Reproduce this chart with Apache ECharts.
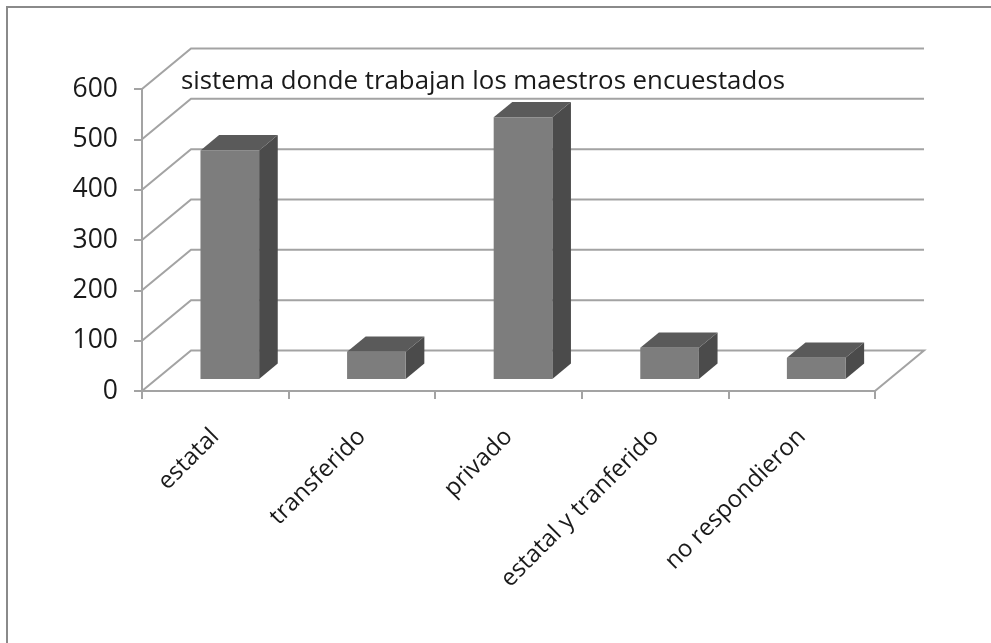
<!DOCTYPE html>
<html>
<head>
<meta charset="utf-8">
<script src="https://cdn.jsdelivr.net/npm/echarts@6/dist/echarts.min.js"></script>
<style>
  html, body { margin: 0; padding: 0; background: #fff; }
  #chart { width: 991px; height: 643px; }
</style>
</head>
<body>
<div id="chart"></div>
<script>
// Survey data: where the surveyed teachers work
const categories = ['estatal', 'transferido', 'privado', 'estatal y tranferido', 'no respondieron'];
const teachers = [454, 54, 520, 62, 42];
const yTicks = [0, 100, 200, 300, 400, 500, 600];
const chartTitle = 'sistema donde trabajan los maestros encuestados';

// Oblique 3D look: how far the back wall sits behind the front plane
const DEPTH_X = 49, DEPTH_Y = -40.5;
// Bars stand part-way into the floor and have their own depth
const BAR_POS = 0.296, BAR_DEPTH = 0.38, BAR_WIDTH = 0.4;
const GRID_COLOR = '#a3a3a3';
const FRONT = '#7d7d7d', TOP = '#5a5a5a', SIDE = '#4b4b4b';
const FONT = '"Open Sans", sans-serif';

// Left wall diagonal + back wall gridline for one value level
function wallItem(params, api) {
  const v = api.value(1);
  const n = categories.length;
  const band = api.size([1, 0])[0];
  const left = api.coord([0, v]);
  const right = api.coord([n - 1, v]);
  const x0 = left[0] - band / 2, x1 = right[0] + band / 2, y = left[1];
  const pts = [[x0, y], [x0 + DEPTH_X, y + DEPTH_Y], [x1 + DEPTH_X, y + DEPTH_Y]];
  if (v === 0) pts.push([x1, y]); // right edge of the floor
  return {
    type: 'polyline',
    shape: { points: pts },
    style: { stroke: GRID_COLOR, lineWidth: 2, fill: null }
  };
}

// One box-shaped bar: side, top, then front face
function barItem(params, api) {
  const i = api.value(0), v = api.value(1);
  const band = api.size([1, 0])[0];
  const w = band * BAR_WIDTH;
  const base = api.coord([i, 0]), top = api.coord([i, v]);
  const ox = DEPTH_X * BAR_POS, oy = DEPTH_Y * BAR_POS;
  const dx = DEPTH_X * BAR_DEPTH, dy = DEPTH_Y * BAR_DEPTH;
  const xl = base[0] - w / 2 + ox, xr = base[0] + w / 2 + ox;
  const yb = base[1] + oy, yt = top[1] + oy;
  return {
    type: 'group',
    children: [
      { type: 'polygon', shape: { points: [[xr, yb], [xr, yt], [xr + dx, yt + dy], [xr + dx, yb + dy]] }, style: { fill: SIDE } },
      { type: 'polygon', shape: { points: [[xl, yt], [xr, yt], [xr + dx, yt + dy], [xl + dx, yt + dy]] }, style: { fill: TOP } },
      { type: 'rect', shape: { x: xl, y: yt, width: w, height: yb - yt }, style: { fill: FRONT } }
    ]
  };
}

const chart = echarts.init(document.getElementById('chart'), null, { renderer: 'canvas' });
chart.setOption({
  animation: false,
  backgroundColor: '#fff',
  title: {
    text: chartTitle,
    left: 176,
    top: 64,
    textStyle: { fontFamily: FONT, fontSize: 25.8, fontWeight: 'normal', color: '#1a1a1a' }
  },
  graphic: [{
    type: 'rect',
    shape: { x: 7, y: 7, width: 1000, height: 700 },
    style: { fill: null, stroke: '#8a8a8a', lineWidth: 2 },
    silent: true
  }],
  grid: { left: 142, right: 116, top: 89, bottom: 252 },
  xAxis: {
    type: 'category',
    data: categories,
    boundaryGap: true,
    axisLine: { show: true, lineStyle: { color: GRID_COLOR, width: 2 } },
    axisTick: { show: true, length: 8, lineStyle: { color: GRID_COLOR, width: 2 } },
    axisLabel: {
      interval: 0, rotate: 45, margin: 42,
      fontFamily: FONT, fontSize: 24, color: '#1a1a1a'
    }
  },
  yAxis: {
    type: 'value',
    min: 0, max: 600, interval: 100,
    axisLine: { show: true, lineStyle: { color: GRID_COLOR, width: 2 } },
    axisTick: { show: true, length: 8, lineStyle: { color: GRID_COLOR, width: 2 } },
    splitLine: { show: false },
    axisLabel: { margin: 24, fontFamily: FONT, fontSize: 26.5, color: '#1a1a1a' }
  },
  series: [
    {
      type: 'custom',
      silent: true,
      renderItem: wallItem,
      data: yTicks.map(v => [0, v]),
      z: 1
    },
    {
      type: 'custom',
      silent: true,
      renderItem: barItem,
      encode: { x: 0, y: 1 },
      data: teachers.map((v, i) => [i, v]),
      z: 2
    }
  ]
});
</script>
</body>
</html>
